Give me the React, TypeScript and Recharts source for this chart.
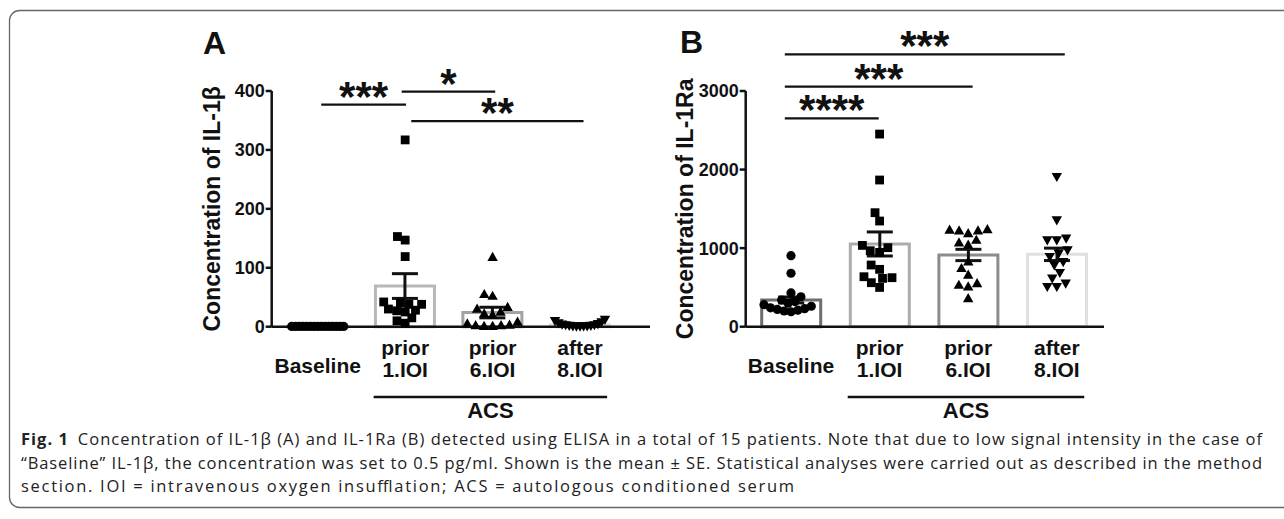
import React from 'react';
import { ComposedChart, Bar, Cell, Scatter, XAxis, YAxis, ErrorBar, ReferenceLine } from 'recharts';

// ---------------- data ----------------
const categories = ['Baseline', 'prior\n1.IOI', 'prior\n6.IOI', 'after\n8.IOI'];

// Panel A: IL-1β
const il1bTicks = [0, 100, 200, 300, 400];
const il1bMean = [0.5, 69, 24, 3.5];
const il1bSE = [0, 21, 9, 1];
const il1bBaseline = [0.5, 0.5, 0.5, 0.5, 0.5, 0.5, 0.5, 0.5, 0.5, 0.5, 0.5, 0.5, 0.5, 0.5, 0.5];
const il1bPrior1 = [317, 153, 147, 119, 42, 40, 38, 38, 30, 28, 27, 25, 15, 10, 6];
const il1bPrior6 = [118, 55, 52, 33, 30, 25, 22, 20, 8, 5, 3, 2, 2, 1, 1];
const il1bAfter8 = [12, 10, 8, 6, 5, 4, 3, 3, 2, 2, 1, 1, 1, 0.5, 0.5];

// Panel B: IL-1Ra
const il1raTicks = [0, 1000, 2000, 3000];
const il1raMean = [340, 1053, 913, 921];
const il1raSE = [38, 153, 72, 79];
const il1raBaseline = [904, 680, 430, 380, 340, 320, 300, 280, 260, 240, 230, 220, 210, 200, 190];
const il1raPrior1 = [2452, 1867, 1451, 1345, 1035, 1006, 967, 946, 785, 730, 636, 624, 615, 560, 500];
const il1raPrior6 = [1239, 1231, 1222, 1222, 1188, 1103, 1069, 1040, 827, 743, 658, 552, 530, 509, 361];
const il1raAfter8 = [1909, 1358, 1124, 1103, 1103, 976, 933, 891, 827, 785, 687, 615, 552, 509, 509];

// significance brackets (category index from/to, value level, label)
const il1bBrackets = [
  { from: 0.04, to: 1.01, level: 377, text: '***' },
  { from: 0.96, to: 2.03, level: 399, text: '*' },
  { from: 1.07, to: 3.04, level: 349, text: '**' },
];
const il1raBrackets = [
  { from: -0.07, to: 0.99, level: 2652, text: '****' },
  { from: -0.07, to: 2.05, level: 3055, text: '***' },
  { from: -0.07, to: 3.09, level: 3467, text: '***' },
];

// ---------------- layout/style ----------------
const FONT = "'Liberation Sans', Arial, Helvetica, sans-serif";
const CH = 430;
const PLOT_H = 235.7;
const AXIS_W = 2.5;
const markerKinds = ['circle', 'square', 'up', 'down'];

function swarm(values: number[], pxPerUnit: number, d: number, maxHalf: number): number[] {
  const order = values.map((_, i) => i).sort((a, b) => values[a] - values[b]);
  const placed: { x: number; y: number }[] = [];
  const out = new Array(values.length).fill(0);
  for (const i of order) {
    const y = values[i] * pxPerUnit;
    const intervals: [number, number][] = [];
    for (const p of placed) {
      const dy = Math.abs(p.y - y);
      if (dy < d) {
        const w = Math.sqrt(d * d - dy * dy);
        intervals.push([p.x - w, p.x + w]);
      }
    }
    const cands = [0];
    intervals.forEach(([a, b]) => cands.push(a, b));
    cands.sort((a, b) => Math.abs(a) - Math.abs(b));
    let x = 0;
    for (const c of cands) {
      if (!intervals.some(([a, b]) => c > a + 1e-6 && c < b - 1e-6)) {
        x = c;
        break;
      }
    }
    placed.push({ x, y });
    out[i] = x;
  }
  const m = Math.max(...out.map((o) => Math.abs(o)));
  const k = m > maxHalf ? maxHalf / m : 1;
  return out.map((o) => o * k);
}

const Marker = ({ cx, cy, kind }: any) => {
  if (cx == null || cy == null) return null;
  if (kind === 'circle') return <circle cx={cx} cy={cy} r={4.6} fill="#000" />;
  if (kind === 'square') return <rect x={cx - 4.4} y={cy - 4.4} width={8.8} height={8.8} fill="#000" />;
  if (kind === 'up')
    return <polygon points={`${cx},${cy - 5.4} ${cx - 5.2},${cy + 3.8} ${cx + 5.2},${cy + 3.8}`} fill="#000" />;
  return <polygon points={`${cx - 5.2},${cy - 3.8} ${cx + 5.2},${cy - 3.8} ${cx},${cy + 5.4}`} fill="#000" />;
};

const CatTick = (props: any) => {
  const { x, y, payload } = props;
  const lines = String(payload.value).split('\n');
  const common = { textAnchor: 'middle' as const, fontFamily: FONT, fontWeight: 700, fontSize: 21, fill: '#111' };
  if (lines.length === 1) {
    return (
      <text x={x} y={y + 46.5} {...common}>
        {lines[0]}
      </text>
    );
  }
  return (
    <g>
      <text x={x} y={y + 27.8} {...common}>
        {lines[0]}
      </text>
      <text x={x} y={y + 49.8} {...common}>
        {lines[1]}
      </text>
    </g>
  );
};

const YTitle = (props: any) => {
  const vb = props.viewBox || { x: 0, y: 0, width: 0, height: 0 };
  const cx = vb.x + (props.shiftX || 0);
  const cy = vb.y + vb.height / 2;
  return (
    <text
      x={cx}
      y={cy}
      transform={`rotate(-90 ${cx} ${cy})`}
      textAnchor="middle"
      dominantBaseline="central"
      fontFamily={FONT}
      fontWeight={700}
      fontSize={23}
      fill="#111"
    >
      {props.text}
    </text>
  );
};

const StarText = (props: any) => {
  const vb = props.viewBox || { x: 0, y: 0, width: 0, height: 0 };
  return (
    <text
      x={vb.x + vb.width / 2}
      y={vb.y + 6}
      textAnchor="middle"
      fontFamily={FONT}
      fontWeight={700}
      fontSize={42}
      fill="#111"
    >
      {props.text}
    </text>
  );
};

const GroupText = (props: any) => {
  const vb = props.viewBox || { x: 0, y: 0, width: 0, height: 0 };
  return (
    <text
      x={vb.x + vb.width / 2}
      y={vb.y + 21}
      textAnchor="middle"
      fontFamily={FONT}
      fontWeight={700}
      fontSize={22}
      fill="#111"
    >
      ACS
    </text>
  );
};

type PanelProps = {
  left: number;
  width: number;
  margin: { top: number; right: number; bottom: number; left: number };
  padL: number;
  padR: number;
  yMax: number;
  yTicks: number[];
  title: string;
  titleShift: number;
  means: number[];
  se: number[];
  groups: number[][];
  barStrokes: string[];
  brackets: { from: number; to: number; level: number; text: string }[];
  markerD: number;
  swarmHalf: number[];
};

const Panel = (p: PanelProps) => {
  const plotW = p.width - p.margin.left - p.margin.right - 60;
  const bandW = (plotW - p.padL - p.padR) / categories.length;
  const pxPerUnit = PLOT_H / p.yMax;
  const rows = categories.map((name, i) => ({ name, mean: p.means[i], se: p.se[i] }));
  const scatterSets = p.groups.map((vals, gi) => {
    const offs = swarm(vals, pxPerUnit, p.markerD, p.swarmHalf[gi]);
    return vals.map((v, i) => ({ x: gi + offs[i] / bandW, y: v }));
  });
  const acsLevel = -(70.3 / PLOT_H) * p.yMax;
  return (
    <div style={{ position: 'absolute', left: p.left, top: 0, width: p.width, height: CH }}>
      <ComposedChart width={p.width} height={CH} data={rows} margin={p.margin}>
        <XAxis
          xAxisId="cat"
          dataKey="name"
          type="category"
          padding={{ left: p.padL, right: p.padR }}
          height={60}
          axisLine={{ stroke: '#111', strokeWidth: AXIS_W }}
          tickLine={false}
          tickSize={0}
          tickMargin={0}
          interval={0}
          tick={<CatTick />}
        />
        <XAxis
          xAxisId="num"
          dataKey="x"
          type="number"
          domain={[-0.5, 3.5]}
          padding={{ left: p.padL, right: p.padR }}
          hide
        />
        <YAxis
          type="number"
          domain={[0, p.yMax]}
          ticks={p.yTicks}
          interval={0}
          width={60}
          axisLine={{ stroke: '#111', strokeWidth: AXIS_W }}
          tickLine={{ stroke: '#111', strokeWidth: AXIS_W }}
          tickSize={6}
          tickMargin={1}
          tick={{ fill: '#111', fontFamily: FONT, fontWeight: 700, fontSize: 18 }}
          label={<YTitle text={p.title} shiftX={p.titleShift} />}
        />
        <Bar
          xAxisId="cat"
          dataKey="mean"
          barSize={59}
          fill="#ffffff"
          strokeWidth={3}
          isAnimationActive={false}
        >
          {rows.map((r, i) => (
            <Cell key={r.name} stroke={p.barStrokes[i]} />
          ))}
          <ErrorBar dataKey="se" width={13} stroke="#111" strokeWidth={3} direction="y" />
        </Bar>
        {scatterSets.map((pts, gi) => (
          <Scatter
            key={gi}
            xAxisId="num"
            data={pts}
            dataKey="y"
            isAnimationActive={false}
            shape={(sp: any) => <Marker cx={sp.cx} cy={sp.cy} kind={markerKinds[gi]} />}
          />
        ))}
        {p.brackets.map((b, i) => (
          <ReferenceLine
            key={i}
            xAxisId="num"
            ifOverflow="visible"
            segment={[
              { x: b.from, y: b.level },
              { x: b.to, y: b.level },
            ]}
            stroke="#111"
            strokeWidth={2.3}
            label={<StarText text={b.text} />}
          />
        ))}
        <ReferenceLine
          xAxisId="num"
          ifOverflow="visible"
          segment={[
            { x: 0.64, y: acsLevel },
            { x: 3.31, y: acsLevel },
          ]}
          stroke="#111"
          strokeWidth={2.3}
          label={<GroupText />}
        />
      </ComposedChart>
    </div>
  );
};

const captionStyle = { fontFamily: "'Open Sans', 'Noto Sans', sans-serif", fontSize: 16.5, fill: '#222' };

export default function App() {
  return (
    <div style={{ position: 'absolute', left: 0, top: 0, width: 1284, height: 519, background: '#fff', overflow: 'hidden' }}>
      <Panel
        left={150}
        width={510}
        margin={{ top: 91, right: 10, bottom: 43.3, left: 61.7 }}
        padL={2.3}
        padR={26.25}
        yMax={400}
        yTicks={il1bTicks}
        title="Concentration of IL-1β"
        titleShift={0.3}
        means={il1bMean}
        se={il1bSE}
        groups={[il1bBaseline, il1bPrior1, il1bPrior6, il1bAfter8]}
        barStrokes={['#9a9a9a', '#b8b8b8', '#a2a2a2', '#dcdcdc']}
        brackets={il1bBrackets}
        markerD={8.5}
        swarmHalf={[26, 27, 28, 25]}
      />
      <Panel
        left={640}
        width={480}
        margin={{ top: 91, right: 16, bottom: 43.3, left: 45.7 }}
        padL={1}
        padR={2.9}
        yMax={3000}
        yTicks={il1raTicks}
        title="Concentration of IL-1Ra"
        titleShift={-0.7}
        means={il1raMean}
        se={il1raSE}
        groups={[il1raBaseline, il1raPrior1, il1raPrior6, il1raAfter8]}
        barStrokes={['#6e6e6e', '#acacac', '#8c8c8c', '#e0e0e0']}
        brackets={il1raBrackets}
        markerD={9.5}
        swarmHalf={[27, 29, 29, 28]}
      />
      <svg
        width={1284}
        height={519}
        style={{ position: 'absolute', left: 0, top: 0, pointerEvents: 'none' }}
      >
        <rect x={9.5} y={10.5} width={1300} height={497} rx={10} ry={10} fill="none" stroke="#666" strokeWidth={1.3} />
        <text x={203} y={54} fontFamily={FONT} fontWeight={700} fontSize={32} fill="#111">
          A
        </text>
        <text x={680} y={53} fontFamily={FONT} fontWeight={700} fontSize={32} fill="#111">
          B
        </text>
        <text x={21} y={445} {...captionStyle} textLength={1241} lengthAdjust="spacing">
          <tspan fontWeight={700}>Fig. 1</tspan>
          <tspan dx={9}>
            Concentration of IL-1β (A) and IL-1Ra (B) detected using ELISA in a total of 15 patients. Note that due to low signal intensity in the case of
          </tspan>
        </text>
        <text x={21} y={468.5} {...captionStyle} textLength={1241} lengthAdjust="spacing">
          “Baseline” IL-1β, the concentration was set to 0.5 pg/ml. Shown is the mean ± SE. Statistical analyses were carried out as described in the method
        </text>
        <text x={21} y={492} {...captionStyle} textLength={773} lengthAdjust="spacing">
          section. IOI = intravenous oxygen insufflation; ACS = autologous conditioned serum
        </text>
      </svg>
    </div>
  );
}
